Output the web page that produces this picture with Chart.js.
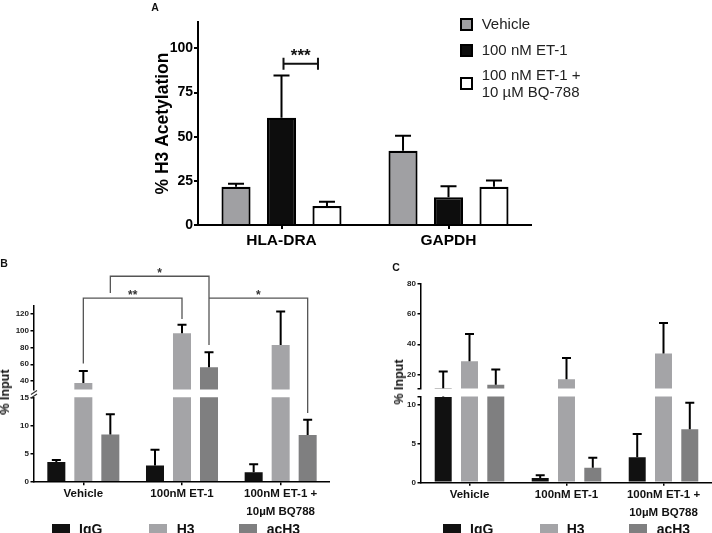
<!DOCTYPE html>
<html>
<head>
<meta charset="utf-8">
<title>H3 acetylation ChIP</title>
<script src="https://cdn.jsdelivr.net/npm/chart.js@4.4.1/dist/chart.umd.min.js"></script>
<style>
  body { margin: 0; width: 712px; height: 533px; overflow: hidden; position: relative; background: #fff;
         font-family: "Liberation Sans", Arial, Helvetica, sans-serif; color: #111; }
  canvas { position: absolute; }
  .txt { position: absolute; white-space: nowrap; }
  .sw { position: absolute; box-sizing: border-box; }
</style>
</head>
<body>
<canvas id="chartA" width="402" height="255" style="left:130px;top:0px"></canvas>
<canvas id="chartBBottom" width="330" height="143" style="left:0px;top:390px"></canvas>
<canvas id="chartBTop" width="330" height="160" style="left:0px;top:260px"></canvas>
<canvas id="chartCBottom" width="352" height="143" style="left:360px;top:390px"></canvas>
<canvas id="chartCTop" width="352" height="122" style="left:360px;top:273px"></canvas>
<script>
// ---------- data ----------
// Panel A: % H3 acetylation
var genesA = ['HLA-DRA', 'GAPDH'];
var treatmentsA = ['Vehicle', '100 nM ET-1', ['100 nM ET-1 +', '10 µM BQ-788']];
var vehicleA = [21.7, 42.0];
var vehicleErrA = [1.6, 8.6];
var et1A = [60.7, 15.7];
var et1ErrA = [24.0, 6.3];
var bq788A = [10.8, 21.6];
var bq788ErrA = [2.4, 3.6];
var yTicksA = [0, 25, 50, 75, 100];

// Panels B and C: % input
var groups = ['Vehicle', '100nM ET-1', ['100nM ET-1 +', '10µM BQ788']];
var antibodies = ['IgG', 'H3', 'acH3'];

var iggB = [3.5, 2.9, 1.7];
var iggErrB = [0.35, 2.8, 1.4];
var h3B = [37.6, 97.0, 83.0];
var h3ErrB = [14.4, 10.0, 40.0];
var acH3B = [8.4, 56.5, 8.3];
var acH3ErrB = [3.6, 17.8, 2.7];
var yTicksBTop = [40, 60, 80, 100, 120];
var yTicksBBottom = [0, 5, 10, 15];

var iggC = [10.95, 0.55, 3.2];
var iggErrC = [11.2, 0.35, 3.0];
var h3C = [28.8, 17.0, 34.0];
var h3ErrC = [17.9, 14.0, 20.0];
var acH3C = [13.4, 1.85, 6.8];
var acH3ErrC = [10.1, 1.3, 3.4];
var yTicksCTop = [11, 20, 40, 60, 80];
var yTicksCBottom = [0, 5, 10, 11];

var colorsA = ['#a0a0a3', '#0d0d0d', '#ffffff'];
var colorsBC = ['#111111', '#a4a4a7', '#7f7f80'];

// ---------- defaults ----------
Chart.defaults.font.family = "'Liberation Sans', Arial, Helvetica, sans-serif";
Chart.defaults.color = '#111';
Chart.defaults.animation = false;
Chart.defaults.plugins.legend.display = false;
Chart.defaults.plugins.tooltip.enabled = false;

// upward-only error bars, clipped to the plot area
function errorBarPlugin(lineWidth, cap) {
    return {
        id: 'errorBars',
        afterDatasetsDraw: function (chart) {
            var ctx = chart.ctx, area = chart.chartArea, y = chart.scales.y;
            ctx.save();
            ctx.beginPath();
            ctx.rect(area.left, area.top, area.right - area.left, area.bottom - area.top);
            ctx.clip();
            ctx.strokeStyle = '#000';
            ctx.lineWidth = lineWidth;
            chart.data.datasets.forEach(function (ds, i) {
                chart.getDatasetMeta(i).data.forEach(function (bar, j) {
                    var v = ds.data[j], hi = v + ds.errors[j];
                    if (hi < y.min || v > y.max) return;
                    var y0 = y.getPixelForValue(Math.max(v, y.min));
                    var y1 = y.getPixelForValue(hi);
                    ctx.beginPath();
                    ctx.moveTo(bar.x, y0);
                    ctx.lineTo(bar.x, y1);
                    ctx.moveTo(bar.x - cap / 2, y1);
                    ctx.lineTo(bar.x + cap / 2, y1);
                    ctx.stroke();
                });
            });
            ctx.restore();
        }
    };
}

function fixedTicks(list) {
    return function (scale) {
        scale.ticks = list.map(function (v) { return {value: v}; });
    };
}

// ---------- panel A ----------
var sigA = {
    id: 'sigA',
    afterDraw: function (chart) {
        var ctx = chart.ctx;
        var x1 = chart.getDatasetMeta(1).data[0].x + 2;
        var x2 = chart.getDatasetMeta(2).data[0].x - 9;
        var yl = chart.scales.y.getPixelForValue(91.3);
        ctx.save();
        ctx.strokeStyle = '#111';
        ctx.lineWidth = 2;
        ctx.beginPath();
        ctx.moveTo(x1, yl); ctx.lineTo(x2, yl);
        ctx.moveTo(x1, yl - 6); ctx.lineTo(x1, yl + 6);
        ctx.moveTo(x2, yl - 6); ctx.lineTo(x2, yl + 6);
        ctx.stroke();
        ctx.fillStyle = '#111';
        ctx.font = "bold 17px 'Liberation Sans', Arial, sans-serif";
        ctx.textAlign = 'center';
        ctx.textBaseline = 'alphabetic';
        ctx.fillText('***', (x1 + x2) / 2, yl - 2.5);
        ctx.restore();
    }
};

var chartA = new Chart(document.getElementById('chartA'), {
    type: 'bar',
    data: {
        labels: genesA,
        datasets: [
            {label: 'Vehicle', data: vehicleA, errors: vehicleErrA, backgroundColor: colorsA[0]},
            {label: '100 nM ET-1', data: et1A, errors: et1ErrA, backgroundColor: colorsA[1]},
            {label: '100 nM ET-1 + 10 µM BQ-788', data: bq788A, errors: bq788ErrA, backgroundColor: colorsA[2]}
        ]
    },
    options: {
        responsive: false,
        layout: {padding: {left: 20, top: 22, right: 0, bottom: 0}},
        datasets: {bar: {borderColor: '#000', borderWidth: 2.2, categoryPercentage: 0.817, barPercentage: 0.64}},
        scales: {
            x: {
                border: {color: '#000', width: 2},
                grid: {drawOnChartArea: false, offset: false, color: '#000', lineWidth: 2, tickLength: 4},
                ticks: {color: '#000', padding: 2, font: {size: 15.5, weight: 'bold'}},
                afterFit: function (s) { s.height = 30; }
            },
            y: {
                min: 0, max: 115, beginAtZero: false,
                border: {color: '#000', width: 2},
                grid: {drawOnChartArea: false, color: '#000', lineWidth: 2, tickLength: 4},
                afterBuildTicks: fixedTicks(yTicksA),
                ticks: {color: '#000', padding: 1, font: {size: 14, weight: 'bold'}},
                title: {display: true, text: '% H3 Acetylation', color: '#000',
                        font: {size: 17.5, weight: 'bold'}, padding: {top: 3, bottom: 0}},
                afterFit: function (s) { s.width = 48; }
            }
        }
    },
    plugins: [errorBarPlugin(2, 16), sigA]
});

// ---------- panels B and C (broken y axis = two stacked charts) ----------
function segmentChart(id, o) {
    var series = o.series;
    return new Chart(document.getElementById(id), {
        type: 'bar',
        data: {
            labels: groups,
            datasets: series.map(function (s, i) {
                return {label: antibodies[i], data: s[0], errors: s[1], backgroundColor: colorsBC[i], clip: 0};
            })
        },
        options: {
            responsive: false,
            layout: {padding: o.padding},
            datasets: {bar: {borderWidth: 0, categoryPercentage: o.catPct, barPercentage: o.barPct}},
            scales: {
                x: o.showX ? {
                    border: {color: '#000', width: 1.5},
                    grid: {drawOnChartArea: false, offset: false, color: '#000', lineWidth: 1.5, tickLength: 3.5},
                    ticks: {color: '#111', padding: 0, font: {size: 11.5, weight: 'bold', lineHeight: 1.55}},
                    afterFit: function (s) { s.height = o.xHeight; }
                } : {display: false},
                y: {
                    min: o.min, max: o.max, beginAtZero: false,
                    border: {color: '#000', width: 1.5},
                    grid: {drawOnChartArea: false, color: '#000', lineWidth: 1.5, tickLength: 3.5},
                    afterBuildTicks: fixedTicks(o.ticks),
                    ticks: {
                        color: '#222', padding: 1.5, font: {size: 8, weight: 'bold'},
                        callback: function (v) { return o.hideTick === v ? '' : v; }
                    },
                    afterFit: function (s) { s.width = o.yWidth; }
                }
            }
        },
        plugins: [errorBarPlugin(2, 9)].concat(o.plugins || [])
    });
}

var topB = 260, bottomB = 390;

var chartBBottom = segmentChart('chartBBottom', {
    series: [[iggB, iggErrB], [h3B, h3ErrB], [acH3B, acH3ErrB]],
    min: 0, max: 15, ticks: yTicksBBottom,
    padding: {left: 0, right: 0, top: 7.3, bottom: 0},
    yWidth: 34, showX: true, xHeight: 51.3, catPct: 0.821, barPct: 0.667
});

// significance brackets; the last one ends in the lower segment
var bracketsB = [
    {from: [1, 0], to: [1, 1], level: 139, fromEnd: 61, toEnd: 114, text: '**'},
    {from: [2, 0], to: [2, 1], level: 165, fromEnd: 145, toEnd: 83, text: '*'},
    {from: [2, 1], to: [2, 2], level: 139, fromEnd: 139, toEnd: 12.2, lower: true, text: '*'}
];

var sigB = {
    id: 'sigB',
    afterDraw: function (chart) {
        var ctx = chart.ctx, y = chart.scales.y, area = chart.chartArea;
        var yLow = chartBBottom.scales.y;
        ctx.save();
        ctx.strokeStyle = '#555';
        ctx.lineWidth = 1.3;
        ctx.fillStyle = '#333';
        ctx.font = "bold 12px 'Liberation Sans', Arial, sans-serif";
        ctx.textAlign = 'center';
        ctx.textBaseline = 'alphabetic';
        bracketsB.forEach(function (b) {
            var xa = chart.getDatasetMeta(b.from[0]).data[b.from[1]].x;
            var xb = chart.getDatasetMeta(b.to[0]).data[b.to[1]].x;
            var yl = y.getPixelForValue(b.level);
            var ya = y.getPixelForValue(b.fromEnd);
            var yb = b.lower ? yLow.getPixelForValue(b.toEnd) + bottomB - topB : y.getPixelForValue(b.toEnd);
            ctx.beginPath();
            ctx.moveTo(xa, ya); ctx.lineTo(xa, yl); ctx.lineTo(xb, yl); ctx.lineTo(xb, yb);
            ctx.stroke();
            ctx.fillText(b.text, (xa + xb) / 2, yl + 0.5);
        });
        // axis break marks
        var x = area.left, yb0 = area.bottom;
        ctx.strokeStyle = '#333';
        ctx.lineWidth = 1.2;
        ctx.beginPath();
        for (var k = 0; k < 2; k++) {
            var yy = yb0 + 3 + k * 3.5;
            ctx.moveTo(x - 3, yy + 2);
            ctx.lineTo(x + 3, yy - 2);
        }
        ctx.stroke();
        ctx.restore();
    }
};

var chartBTop = segmentChart('chartBTop', {
    series: [[iggB, iggErrB], [h3B, h3ErrB], [acH3B, acH3ErrB]],
    min: 30, max: 130, ticks: yTicksBTop,
    padding: {left: 0, right: 0, top: 45.6, bottom: 30.6},
    yWidth: 34, showX: false, catPct: 0.821, barPct: 0.667,
    plugins: [sigB]
});

var chartCBottom = segmentChart('chartCBottom', {
    series: [[iggC, iggErrC], [h3C, h3ErrC], [acH3C, acH3ErrC]],
    min: 0, max: 11, ticks: yTicksCBottom, hideTick: 11,
    padding: {left: 0, right: 0, top: 6.5, bottom: 0},
    yWidth: 61, showX: true, xHeight: 50.7, catPct: 0.813, barPct: 0.646
});

var chartCTop = segmentChart('chartCTop', {
    series: [[iggC, iggErrC], [h3C, h3ErrC], [acH3C, acH3ErrC]],
    min: 11, max: 80, ticks: yTicksCTop, hideTick: 11,
    padding: {left: 0, right: 0, top: 10.3, bottom: 6.5},
    yWidth: 61, showX: false, catPct: 0.813, barPct: 0.646
});

// ---------- text and legends ----------
function addText(html, left, top, css) {
    var d = document.createElement('div');
    d.className = 'txt';
    d.style.cssText = 'left:' + left + 'px;top:' + top + 'px;' + (css || '');
    d.innerHTML = html;
    document.body.appendChild(d);
    return d;
}
function addSwatch(left, top, w, h, color, border) {
    var d = document.createElement('div');
    d.className = 'sw';
    d.style.cssText = 'left:' + left + 'px;top:' + top + 'px;width:' + w + 'px;height:' + h + 'px;background:' +
        color + ';' + (border ? 'border:' + border + ';' : '');
    document.body.appendChild(d);
}

var letterCss = 'font-weight:bold;font-size:10.5px;line-height:12px;';
addText('A', 151.2, 1, letterCss);
addText('B', 0.2, 257, letterCss);
addText('C', 392.2, 261, letterCss);

var yTitleCss = 'font-weight:bold;font-size:12.5px;line-height:14px;transform:translate(-50%,-50%) rotate(-90deg);';
addText('% Input', 5, 392, yTitleCss);
addText('% Input', 398.5, 381.7, yTitleCss);

// legend A
var rowsA = [24.3, 50, 83.65];
treatmentsA.forEach(function (t, i) {
    addSwatch(460, rowsA[i] - 6.5, 13, 13, colorsA[i], '2px solid #000');
    var lines = Array.isArray(t) ? t : [t];
    addText(lines.join('<br>'), 481.7, rowsA[i] - lines.length * 8.35,
        'font-size:15px;line-height:16.7px;color:#222;');
});

// legends B and C
function legendBC(boxLefts, textLefts, cy) {
    antibodies.forEach(function (a, i) {
        addSwatch(boxLefts[i], cy - 5, 18, 10, colorsBC[i]);
        addText(a, textLefts[i], cy - 8, 'font-weight:bold;font-size:14px;line-height:16px;color:#111;');
    });
}
legendBC([51.7, 149, 239], [79, 176.7, 266.7], 528.5);
legendBC([443.3, 540, 629.3], [470, 566.7, 656.7], 528.5);
</script>
</body>
</html>
